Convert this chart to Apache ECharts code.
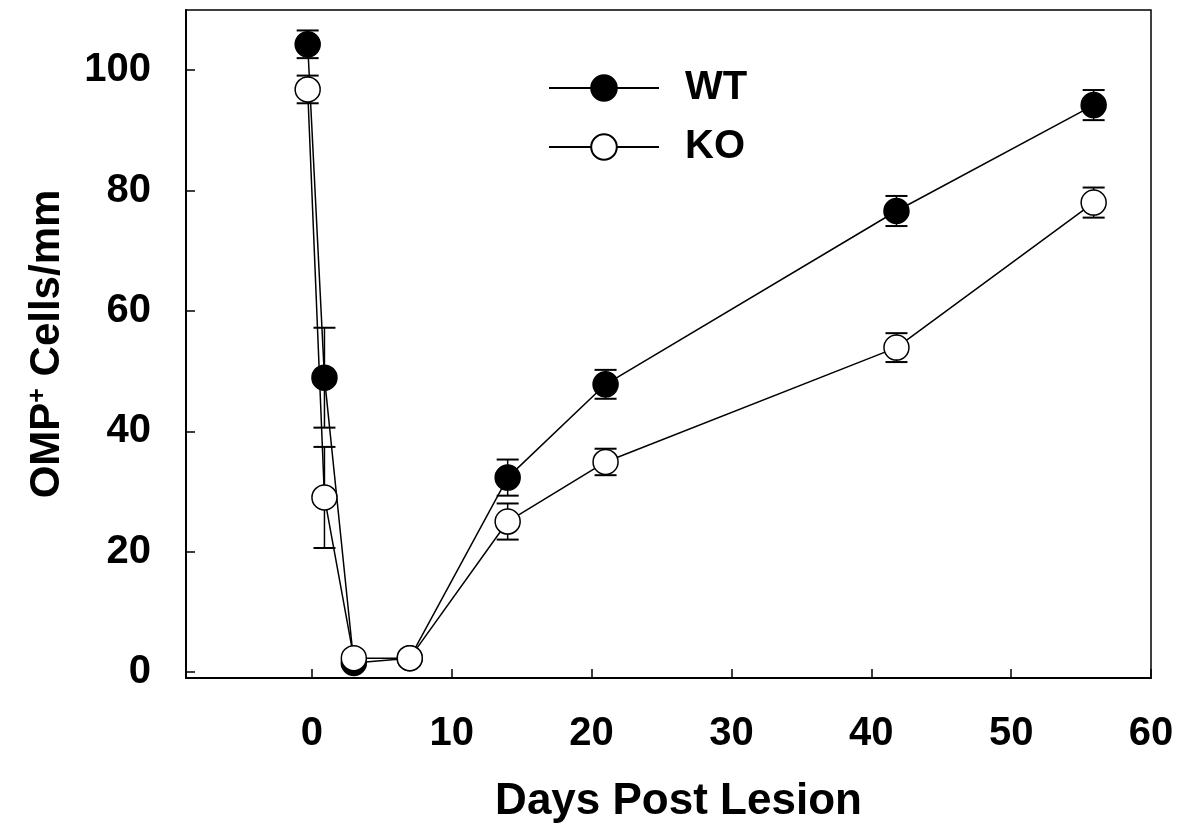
<!DOCTYPE html>
<html>
<head>
<meta charset="utf-8">
<script src="https://cdn.jsdelivr.net/npm/echarts@6/dist/echarts.min.js"></script>
<style>
html,body{margin:0;padding:0;background:#fff;}
#chart{width:1186px;height:834px;}
</style>
</head>
<body>
<div id="chart"></div>
<script>
// Data
const seriesNames = ['WT', 'KO'];
const daysWT = [-0.3, 0.9, 3.0, 7.0, 14.0, 21.0, 41.8, 55.9];
const cellsWT = [104.3, 48.9, 1.5, 2.3, 32.3, 47.8, 76.6, 94.2];
const errWT = [2.3, 8.3, 0.5, 0.5, 3.0, 2.4, 2.5, 2.5];
const daysKO = [-0.3, 0.9, 3.0, 7.0, 14.0, 21.0, 41.8, 55.9];
const cellsKO = [96.8, 29.0, 2.3, 2.3, 25.0, 34.9, 53.9, 78.0];
const errKO = [2.3, 8.4, 0.5, 0.5, 3.0, 2.2, 2.4, 2.5];
const xTicks = [0, 10, 20, 30, 40, 50, 60];
const yTicks = [0, 20, 40, 60, 80, 100];
const xTitle = 'Days Post Lesion';
const yTitle = 'OMP{sup|+} Cells/mm';

const FONT = '"Liberation Sans", Arial, Helvetica, sans-serif';

function pts(xs, ys) { return xs.map((x, i) => [x, ys[i]]); }
function errs(xs, ys, es) { return xs.map((x, i) => [x, ys[i] - es[i], ys[i] + es[i]]); }

function errRender(params, api) {
  const x = api.value(0), lo = api.value(1), hi = api.value(2);
  const a = api.coord([x, lo]), b = api.coord([x, hi]);
  const hw = 11;
  const st = { stroke: '#000', lineWidth: 1.5 };
  const cs = { stroke: '#000', lineWidth: 2 };
  return {
    type: 'group',
    children: [
      { type: 'line', shape: { x1: a[0], y1: a[1], x2: b[0], y2: b[1] }, style: st },
      { type: 'line', shape: { x1: a[0] - hw, y1: a[1], x2: a[0] + hw, y2: a[1] }, style: cs },
      { type: 'line', shape: { x1: b[0] - hw, y1: b[1], x2: b[0] + hw, y2: b[1] }, style: cs }
    ]
  };
}

const chart = echarts.init(document.getElementById('chart'), null, { renderer: 'canvas' });
chart.setOption({
  animation: false,
  backgroundColor: '#fff',
  grid: {
    left: 186, right: 35, top: 10, bottom: 156,
    show: true, borderColor: '#000', borderWidth: 1.5, backgroundColor: 'transparent'
  },
  legend: {
    data: seriesNames,
    orient: 'vertical',
    left: 543,
    top: 63,
    itemWidth: 110,
    itemHeight: 32,
    itemGap: 19,
    textStyle: { fontFamily: FONT, fontWeight: 'bold', fontSize: 40, color: '#000', padding: [0, 0, 0, 21] }
  },
  xAxis: {
    type: 'value',
    min: -9, max: 60,
    name: xTitle,
    nameLocation: 'middle',
    nameGap: 102,
    nameTextStyle: { fontFamily: FONT, fontWeight: 'bold', fontSize: 44, color: '#000', padding: [0, 0, 0, 20] },
    axisLine: { onZero: false, lineStyle: { color: '#000', width: 2 } },
    axisTick: { inside: true, length: 9, customValues: xTicks, lineStyle: { color: '#000', width: 1.5 } },
    axisLabel: { customValues: xTicks, margin: 36, fontFamily: FONT, fontWeight: 'bold', fontSize: 40, color: '#000' },
    splitLine: { show: false }
  },
  yAxis: {
    type: 'value',
    min: -1, max: 110,
    name: yTitle,
    nameLocation: 'middle',
    nameGap: 118,
    nameRotate: 90,
    nameTextStyle: {
      fontFamily: FONT, fontWeight: 'bold', fontSize: 42, color: '#000',
      rich: { sup: { fontFamily: FONT, fontWeight: 'bold', fontSize: 25, color: '#000', verticalAlign: 'top', padding: [0, 0, 17, 0] } }
    },
    axisLine: { onZero: false, lineStyle: { color: '#000', width: 2 } },
    axisTick: { inside: true, length: 9, customValues: yTicks, lineStyle: { color: '#000', width: 1.5 } },
    axisLabel: { customValues: yTicks, margin: 35, fontFamily: FONT, fontWeight: 'bold', fontSize: 40, color: '#000' },
    splitLine: { show: false }
  },
  series: [
    {
      type: 'custom', name: 'WT error', renderItem: errRender,
      data: errs(daysWT, cellsWT, errWT), encode: { x: 0, y: [1, 2] }, z: 1, silent: true
    },
    {
      type: 'custom', name: 'KO error', renderItem: errRender,
      data: errs(daysKO, cellsKO, errKO), encode: { x: 0, y: [1, 2] }, z: 1, silent: true
    },
    {
      type: 'line', name: 'WT', data: pts(daysWT, cellsWT), z: 3,
      symbol: 'circle', symbolSize: 25, showAllSymbol: true,
      lineStyle: { color: '#000', width: 1.5 },
      itemStyle: { color: '#000', borderColor: '#000', borderWidth: 1.5 }
    },
    {
      type: 'line', name: 'KO', data: pts(daysKO, cellsKO), z: 4,
      symbol: 'circle', symbolSize: 25, showAllSymbol: true,
      lineStyle: { color: '#000', width: 1.5 },
      itemStyle: { color: '#fff', borderColor: '#000', borderWidth: 1.5 }
    }
  ]
});
</script>
</body>
</html>
